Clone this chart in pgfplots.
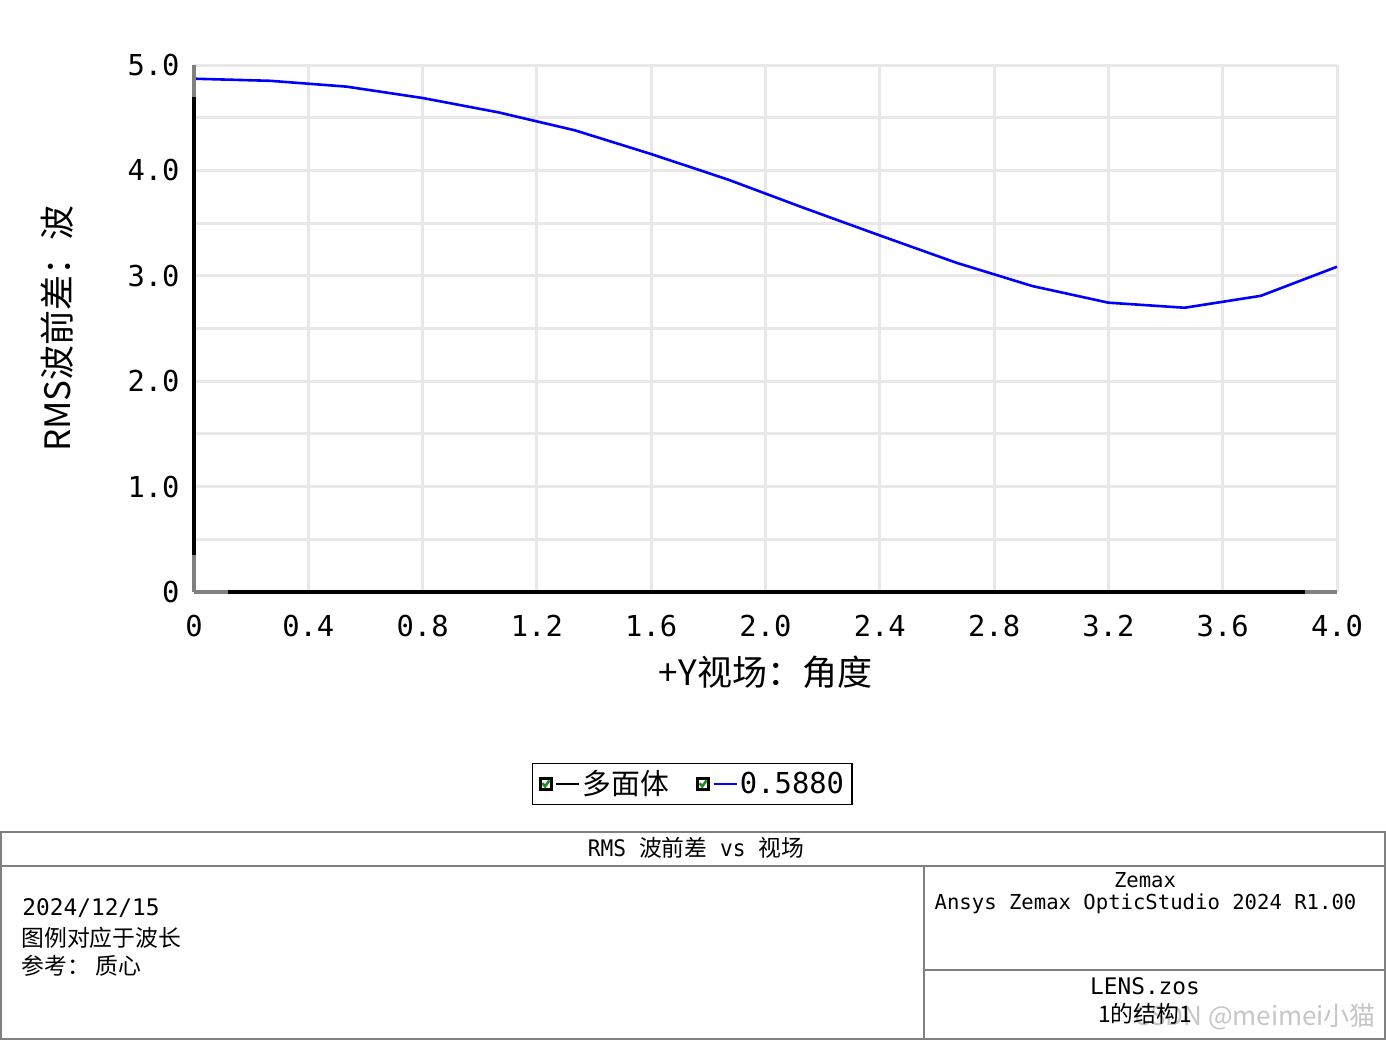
\documentclass[border=0pt]{standalone}
\usepackage{fontspec}
\usepackage{pgfplots}
\pgfplotsset{compat=1.18}
\newfontfamily\cjk{Noto Sans CJK SC}
\newfontfamily\mono{DejaVu Sans Mono}
\newfontfamily\monoc[FakeStretch=0.93]{DejaVu Sans Mono}
\definecolor{gridgray}{RGB}{232,232,232}
\definecolor{framegray}{RGB}{128,128,128}
\definecolor{checkgreen}{RGB}{30,140,30}

\begin{document}
\begin{tikzpicture}
\useasboundingbox (0,0) rectangle (693pt,520pt);
\fill[white] (0,0) rectangle (693pt,520pt);
\begin{axis}[
  at={(97pt,224pt)}, anchor=south west,
  scale only axis, width=571.5pt, height=263.5pt,
  xmin=0, xmax=4, ymin=0, ymax=5,
  clip=false,
  xtick={0,0.4,0.8,1.2,1.6,2.0,2.4,2.8,3.2,3.6,4.0},
  xticklabels={0,0.4,0.8,1.2,1.6,2.0,2.4,2.8,3.2,3.6,4.0},
  ytick={0,1,2,3,4,5},
  yticklabels={0,1.0,2.0,3.0,4.0,5.0},
  minor ytick={0.5,1.5,2.5,3.5,4.5},
  grid=both,
  major grid style={gridgray, line width=1.5pt},
  minor grid style={gridgray, line width=1.5pt},
  axis line style={draw=none},
  major tick length=0pt, minor tick length=0pt,
  tick style={draw=none},
  tick label style={font=\mono\fontsize{14.4}{17}\selectfont},
  xticklabel style={anchor=center, yshift=-17pt},
  yticklabel style={anchor=east, xshift=-3.7pt},
  xlabel={+Y视场：角度},
  ylabel={RMS波前差：波},
  xlabel style={font=\cjk\fontsize{17.5}{20}\selectfont, at={(axis description cs:0.5,-0.1518)}, anchor=center},
  ylabel style={font=\cjk\fontsize{17.5}{20}\selectfont, at={(axis description cs:-0.1199,0.5)}, anchor=center},
  legend columns=2,
  legend cell align=left,
  legend style={at={(axis description cs:0.436,-0.364)}, anchor=center,
    draw=black, line width=0.6pt, inner xsep=3pt, inner ysep=2pt,
    font=\mono\fontsize{14.4}{17}\selectfont,
    nodes={inner xsep=1pt, inner ysep=1.5pt},
    /tikz/every even column/.append style={column sep=12.5pt}},
  legend image code/.code={
    \draw[black, line width=1.6pt, fill=white] (0.4pt,-2.8pt) rectangle (6.1pt,2.8pt);
    \draw[checkgreen, line width=1.3pt] (1.5pt,0.3pt) -- (2.8pt,-1.3pt) -- (4.9pt,1.7pt);
    \draw (8.5pt,0pt) -- (20pt,0pt);
  },
]
\addlegendimage{black, line width=1pt}
\addlegendentry{{\cjk 多面体}}
\addplot[blue, line width=1.3pt] coordinates {
  (0.00000,4.870) (0.26667,4.850) (0.53333,4.795) (0.80000,4.687)
  (1.06667,4.550) (1.33333,4.380) (1.60000,4.155) (1.86667,3.915)
  (2.13333,3.645) (2.40000,3.383) (2.66667,3.125) (2.93333,2.903)
  (3.20000,2.745) (3.46667,2.697) (3.73333,2.810) (4.00000,3.086)
};
\addlegendentry{0.5880}
\draw[black, line width=1.75pt] (axis cs:0,0.35) -- (axis cs:0,4.70);
\draw[framegray, line width=1.75pt] (axis cs:0,0) -- (axis cs:0,0.35);
\draw[framegray, line width=1.75pt] (axis cs:0,4.70) -- (axis cs:0,5);
\draw[black, line width=1.75pt] (axis cs:0.119,0) -- (axis cs:3.888,0);
\draw[framegray, line width=1.75pt] (axis cs:0,0) -- (axis cs:0.119,0);
\draw[framegray, line width=1.75pt] (axis cs:3.888,0) -- (axis cs:4,0);
\end{axis}
% bottom information panel
\draw[framegray, line width=1pt] (0.5pt,0.5pt) rectangle (692.5pt,104pt);
\draw[framegray, line width=1pt] (0,87pt) -- (693pt,87pt);
\draw[framegray, line width=1pt] (462pt,0) -- (462pt,87pt);
\draw[framegray, line width=1pt] (462pt,35pt) -- (693pt,35pt);
\node at (348pt,96pt) {\monoc\fontsize{11.4}{13}\selectfont RMS {\cjk 波前差} vs {\cjk 视场}};
\node[anchor=west, inner sep=0pt] at (11pt,66pt) {\mono\fontsize{11.4}{13}\selectfont 2024/12/15};
\node[anchor=west, inner sep=0pt] at (10.5pt,51pt) {\cjk\fontsize{11.4}{13}\selectfont 图例对应于波长};
\node[anchor=west, inner sep=0pt] at (10.5pt,37pt) {\cjk\fontsize{11.4}{13}\selectfont 参考：\hspace{3pt}质心};
\node at (572.5pt,80pt) {\mono\fontsize{10.3}{12}\selectfont Zemax};
\node at (572.75pt,68pt) {\mono\fontsize{10.3}{12}\selectfont Ansys Zemax OpticStudio 2024 R1.00};
\node at (572.5pt,27pt) {\mono\fontsize{11.4}{13}\selectfont LENS.zos};
\node[anchor=east, text=gray!45] at (691.5pt,11.5pt) {\cjk\fontsize{13}{15}\selectfont CSDN @meimei小猫};
\node at (572.5pt,13pt) {\cjk\fontsize{11.4}{13}\selectfont 1的结构1};
\end{tikzpicture}
\end{document}
